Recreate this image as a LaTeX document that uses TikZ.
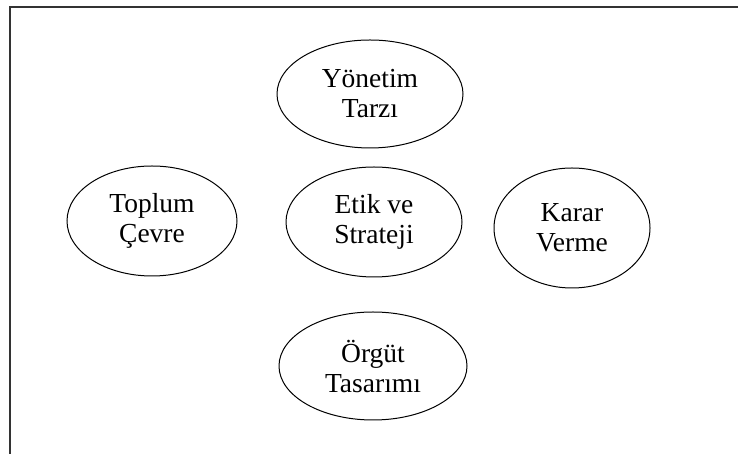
\documentclass[tikz,border=0pt]{standalone}
\usepackage{fontspec}
\setmainfont{Liberation Serif}
\usetikzlibrary{shapes.geometric}
\begin{document}
\begin{tikzpicture}[x=1pt,y=1pt,
  oval/.style={ellipse, draw=black, line width=1pt, inner sep=0pt, align=center,
    font=\fontsize{27.5}{30}\selectfont},
  frameline/.style={draw=black!80, line width=2.2pt}]
\useasboundingbox (0,0) rectangle (738,454);
\coordinate (tl) at (10,447);
\coordinate (tr) at (738,447);
\coordinate (bl) at (10,0);
\draw[frameline] (tr) -- (tl) -- (bl);
\node[oval, minimum width=186, minimum height=108] (yon) at (370,360) {Yönetim\\Tarzı};
\node[oval, minimum width=176, minimum height=110] (etik) at (374,232) {Etik ve\\Strateji};
\node[oval, minimum width=170, minimum height=110] (top) at (152,233) {Toplum\\Çevre};
\node[oval, minimum width=156, minimum height=120] (kar) at (572,226) {Karar\\Verme};
\node[oval, minimum width=188, minimum height=108] (org) at (373,88) {Örgüt\\Tasarımı};
\end{tikzpicture}
\end{document}
